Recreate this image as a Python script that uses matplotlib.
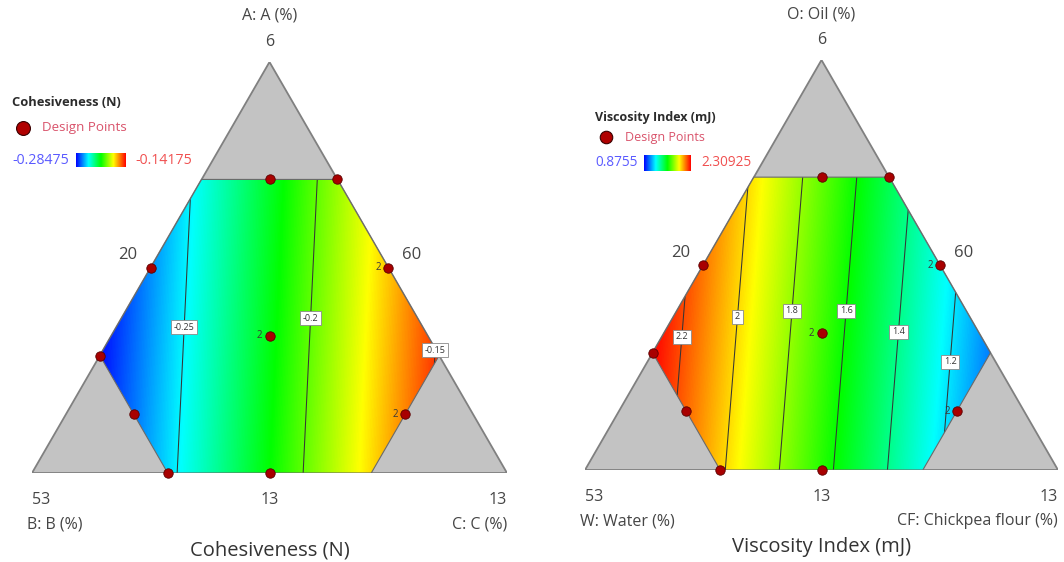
"""Ternary contour plots (Design-Expert style) for cohesiveness and viscosity index."""
import numpy as np
import matplotlib
matplotlib.use('Agg')
import matplotlib.pyplot as plt
from matplotlib.colors import LinearSegmentedColormap, Normalize
from matplotlib.patches import Polygon

plt.rcParams['font.family'] = ['Open Sans', 'DejaVu Sans']

W, H = 1064, 562
SQ3 = np.sqrt(3) / 2

# upper bound of each pseudo component -> hexagonal design region
COMP_MAX = 5 / 7

# design points as pseudo components (A = top, B = bottom left, C = bottom right)
PTS_A = [10/14, 10/14, 7/14, 4/14, 2/14, 0, 0, 7/14, 2/14, 1/3]
PTS_B = [2/14, 0, 7/14, 10/14, 10/14, 10/14, 7/14, 0, 2/14, 1/3]
PTS_C = [2/14, 4/14, 0, 0, 2/14, 4/14, 7/14, 7/14, 10/14, 1/3]
PTS_REPS = [1, 1, 1, 1, 1, 1, 1, 2, 2, 2]

# linear mixture model coefficients (bA, bB, bC)
COH_COEF = [-0.2212, -0.3076, -0.1191]
VIS_COEF = [1.765, 2.519, 0.769]
COH_RANGE = [-0.28475, -0.14175]
VIS_RANGE = [0.8755, 2.30925]
COH_LEVELS = [-0.25, -0.2, -0.15]
VIS_LEVELS = [1.2, 1.4, 1.6, 1.8, 2.0, 2.2]

COH_NAMES = ['A: A (%)', 'B: B (%)', 'C: C (%)']
VIS_NAMES = ['O: Oil (%)', 'W: Water (%)', 'CF: Chickpea flour (%)']
TICK_LABELS = ['6', '20', '60', '53', '13', '13']

CMAP = LinearSegmentedColormap.from_list(
    'de', ['#0000ff', '#00ffff', '#00ff00', '#ffff00', '#ff0000'])
TXT = '#454545'


def to_xy(a, b, c):
    a, c = np.asarray(a, float), np.asarray(c, float)
    return c + a / 2, a * SQ3


def solve_x(coef, level, y):
    # x on the horizontal line y where the linear model equals level
    a = y / SQ3
    c = (level - coef[1] - (coef[0] - coef[1]) * a) / (coef[2] - coef[1])
    return c + a / 2


def draw_panel(ax, coef, vrange, levels, label_y, names, title):
    m = COMP_MAX
    tri = Polygon([to_xy(1, 0, 0), to_xy(0, 1, 0), to_xy(0, 0, 1)], closed=True,
                  fc='#c3c3c3', ec='#808080', lw=1.3, zorder=1)
    ax.add_patch(tri)
    hex_bary = [(m, 1 - m, 0), (m, 0, 1 - m), (1 - m, 0, m),
                (0, 1 - m, m), (0, m, 1 - m), (1 - m, m, 0)]
    hexagon = Polygon([to_xy(*v) for v in hex_bary], closed=True,
                      fc='none', ec='#6a6a6a', lw=0.8, zorder=4)
    ax.add_patch(hexagon)

    gx, gy = np.meshgrid(np.linspace(0, 1, 500), np.linspace(0, SQ3, 440))
    A = gy / SQ3
    C = gx - A / 2
    B = 1 - A - C
    V = coef[0] * A + coef[1] * B + coef[2] * C

    im = ax.imshow(V, origin='lower', extent=(0, 1, 0, SQ3), cmap=CMAP,
                   norm=Normalize(*vrange), aspect='auto',
                   interpolation='bilinear', zorder=2)
    im.set_clip_path(hexagon)

    cs = ax.contour(gx, gy, V, levels=levels, colors='#353535',
                    linewidths=0.75, negative_linestyles='solid', zorder=3)
    cs.set_clip_path(hexagon)
    manual = [(solve_x(coef, lv, yy), yy) for lv, yy in zip(levels, label_y)]
    texts = ax.clabel(cs, levels, manual=manual, inline=False,
                      fmt=lambda v: f'{v:g}', fontsize=6.5, colors='#333333')
    for t in texts:
        t.set_rotation(0)
        t.set_zorder(5)
        t.set_bbox(dict(boxstyle='square,pad=0.3', fc='white',
                        ec='#8a8a8a', lw=0.6))

    px, py = to_xy(PTS_A, PTS_B, PTS_C)
    ax.scatter(px, py, s=46, c='#a80000', edgecolors='#5a0000',
               linewidths=0.6, zorder=6, clip_on=False)
    for x, y, r in zip(px, py, PTS_REPS):
        if r > 1:
            ax.annotate(str(r), (x, y), xytext=(-5, 0), textcoords='offset points',
                        ha='right', va='center', fontsize=7, color='#3a3a3a',
                        zorder=6)

    kw = dict(color=TXT, fontsize=11.5, clip_on=False)
    ax.text(0.5, SQ3 + 0.097, names[0], ha='center', va='center', **kw)
    ax.text(0.5, SQ3 + 0.043, TICK_LABELS[0], ha='center', va='center', **kw)
    ax.text(0.202, 0.459, TICK_LABELS[1], ha='center', va='center', fontsize=12,
            color=TXT)
    ax.text(0.80, 0.459, TICK_LABELS[2], ha='center', va='center', fontsize=12,
            color=TXT)
    ax.text(0.0, -0.057, TICK_LABELS[3], ha='left', va='center', **kw)
    ax.text(0.5, -0.057, TICK_LABELS[4], ha='center', va='center', **kw)
    ax.text(1.0, -0.057, TICK_LABELS[5], ha='right', va='center', **kw)
    ax.text(-0.01, -0.108, names[1], ha='left', va='center', **kw)
    ax.text(1.0, -0.108, names[2], ha='right', va='center', **kw)
    ax.text(0.5, -0.163, title, ha='center', va='center', color='#333333',
            fontsize=14.5, clip_on=False)

    ax.set_xlim(0, 1)
    ax.set_ylim(0, SQ3)
    ax.axis('off')


def draw_legend(ov, fig, title, vrange, x0, y_title, y_pt, y_bar, bar_w, bar_h,
                fs_title, fs_pts, fs_num, ms, fmt_lo, fmt_hi):
    ov.text(x0, y_title, title, ha='left', va='center', fontsize=fs_title,
            fontweight='bold', color='#2b2b2b')
    ov.plot([x0 + 11], [y_pt], 'o', ms=ms, mfc='#b00000', mec='#3a0000',
            mew=0.8)
    ov.text(x0 + 30, y_pt, 'Design Points', ha='left', va='center',
            fontsize=fs_pts, color='#d9536b')
    lo = ov.text(x0, y_bar, fmt_lo, ha='left', va='center', fontsize=fs_num,
                 color='#5a5aff')
    fig.canvas.draw()
    bb = lo.get_window_extent()
    bx = bb.x1 + 7
    cax = fig.add_axes([bx / W, (H - y_bar - bar_h / 2) / H, bar_w / W, bar_h / H])
    cax.imshow(np.linspace(vrange[0], vrange[1], 256)[None, :], cmap=CMAP,
               norm=Normalize(*vrange), aspect='auto')
    cax.axis('off')
    ov.text(bx + bar_w + 10, y_bar, fmt_hi, ha='left', va='center',
            fontsize=fs_num, color='#f05050')


fig = plt.figure(figsize=(W / 100, H / 100), dpi=100)

ax1 = fig.add_axes([32 / W, (H - 473) / H, 475 / W, 411 / H])
draw_panel(ax1, COH_COEF, COH_RANGE, COH_LEVELS,
           [(473 - 327) / 475, (473 - 318) / 475, (473 - 350) / 475],
           COH_NAMES, 'Cohesiveness (N)')

ax2 = fig.add_axes([585 / W, (H - 470) / H, 473 / W, 410 / H])
draw_panel(ax2, VIS_COEF, VIS_RANGE, VIS_LEVELS,
           [(470 - y) / 473 for y in (362, 332, 311, 311, 317, 337)],
           VIS_NAMES, 'Viscosity Index (mJ)')

ov = fig.add_axes([0, 0, 1, 1], zorder=10)
ov.set_xlim(0, W)
ov.set_ylim(H, 0)
ov.axis('off')

draw_legend(ov, fig, 'Cohesiveness (N)', COH_RANGE, 12, 103, 128, 160, 50, 15,
            9.3, 9.6, 10.2, 10, '-0.28475', '-0.14175')
draw_legend(ov, fig, 'Viscosity Index (mJ)', VIS_RANGE, 595, 117, 137, 163, 47, 17,
            9.0, 9.0, 9.8, 9, '0.8755', '2.30925')

fig.savefig('out.png', dpi=100)
plt.close(fig)
